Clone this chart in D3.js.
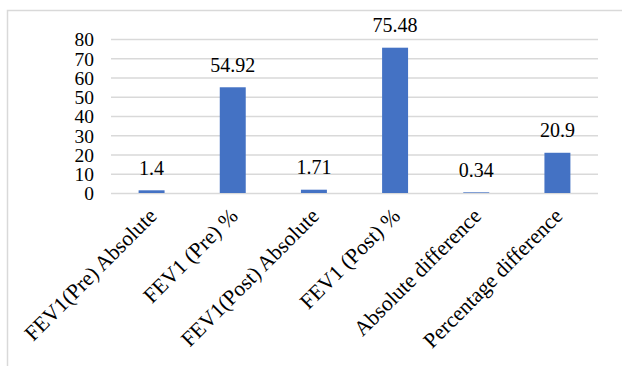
<!DOCTYPE html>
<html>
<head>
<meta charset="utf-8">
<script src="https://cdn.jsdelivr.net/npm/d3@7"></script>
<style>
  html, body { margin: 0; padding: 0; background: #ffffff; }
  svg { display: block; }
  text { font-family: "Liberation Serif", "Times New Roman", serif; fill: #000; }
</style>
</head>
<body>
<svg id="chart" width="622" height="366"></svg>
<script>
// FEV1 measures before and after, with their differences
const categories = [
  "FEV1(Pre) Absolute",
  "FEV1 (Pre) %",
  "FEV1(Post) Absolute",
  "FEV1 (Post) %",
  "Absolute difference",
  "Percentage difference"
];
const values = [1.4, 54.92, 1.71, 75.48, 0.34, 20.9];
const yTicks = [0, 10, 20, 30, 40, 50, 60, 70, 80];

const svg = d3.select("#chart");
const W = 622, H = 366;
const plot = { left: 111, right: 598, top: 39, bottom: 193 };

// outer chart frame (runs off the right and bottom edges)
svg.append("rect")
  .attr("x", 7.5).attr("y", 10.5)
  .attr("width", W + 20).attr("height", H + 20)
  .attr("fill", "none")
  .attr("stroke", "#d9d9d9")
  .attr("stroke-width", 1.5);

const x = d3.scaleBand()
  .domain(categories)
  .range([plot.left, plot.right])
  .paddingInner(0.68)
  .paddingOuter(0.34);

const y = d3.scaleLinear()
  .domain([0, 80])
  .range([plot.bottom, plot.top]);

// horizontal gridlines
const yAxis = d3.axisLeft(y)
  .tickValues(yTicks)
  .tickSize(-(plot.right - plot.left))
  .tickPadding(17)
  .tickFormat(d3.format("d"));

const gy = svg.append("g")
  .attr("transform", `translate(${plot.left},0)`)
  .call(yAxis);
gy.select(".domain").remove();
gy.selectAll(".tick line")
  .attr("stroke", "#d9d9d9")
  .attr("stroke-width", 1.5);
gy.selectAll(".tick text")
  .attr("font-size", 19.5)
  .attr("font-family", "Liberation Serif, Times New Roman, serif")
  .attr("fill", "#000")
  .attr("dy", "0.35em");

// bars
svg.append("g")
  .selectAll("rect")
  .data(values)
  .join("rect")
  .attr("x", (d, i) => x(categories[i]))
  .attr("y", d => y(d))
  .attr("width", x.bandwidth())
  .attr("height", d => y(0) - y(d))
  .attr("fill", "#4472c4");

// value labels
svg.append("g")
  .selectAll("text")
  .data(values)
  .join("text")
  .attr("x", (d, i) => x(categories[i]) + x.bandwidth() / 2)
  .attr("y", d => y(d) - 15.5)
  .attr("text-anchor", "middle")
  .attr("font-size", 20)
  .text(d => d);

// category labels, rotated
const xAxis = d3.axisBottom(x).tickSize(0).tickPadding(0);
const gx = svg.append("g")
  .attr("transform", `translate(0,${plot.bottom})`)
  .call(xAxis);
gx.select(".domain").remove();
gx.selectAll(".tick text")
  .attr("font-size", 21.5)
  .attr("font-family", "Liberation Serif, Times New Roman, serif")
  .attr("fill", "#000")
  .attr("text-anchor", "end")
  .attr("dy", "0.35em")
  .attr("transform", "translate(1,19) rotate(-45)");
</script>
</body>
</html>
